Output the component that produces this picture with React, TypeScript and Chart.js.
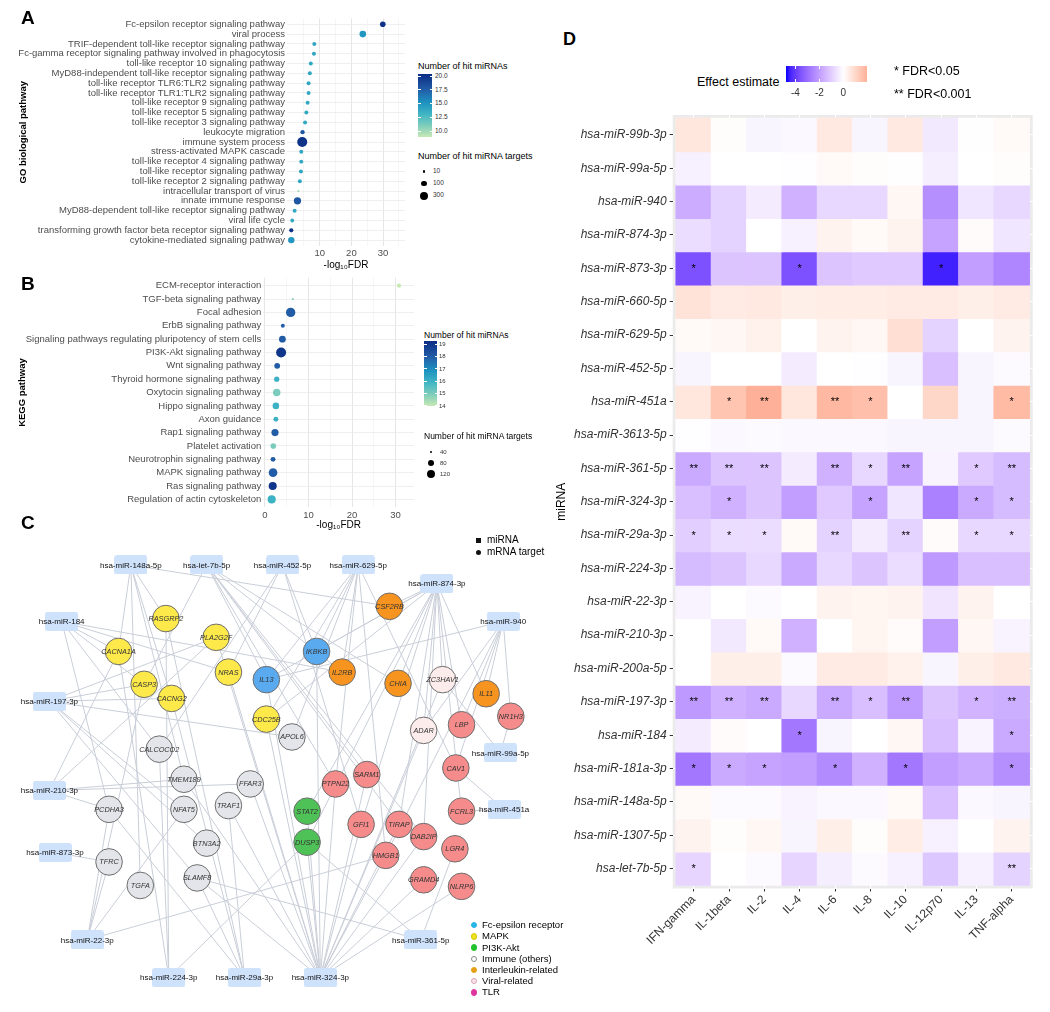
import React, { useEffect, useRef } from 'react';
import { Chart, registerables } from 'chart.js';

Chart.register(...registerables);

const FONT = '"Liberation Sans", Arial, Helvetica, sans-serif';
Chart.defaults.font.family = FONT;

// ---------------- Panel A: GO biological pathways ----------------
const goTerms = [
  'Fc-epsilon receptor signaling pathway',
  'viral process',
  'TRIF-dependent toll-like receptor signaling pathway',
  'Fc-gamma receptor signaling pathway involved in phagocytosis',
  'toll-like receptor 10 signaling pathway',
  'MyD88-independent toll-like receptor signaling pathway',
  'toll-like receptor TLR6:TLR2 signaling pathway',
  'toll-like receptor TLR1:TLR2 signaling pathway',
  'toll-like receptor 9 signaling pathway',
  'toll-like receptor 5 signaling pathway',
  'toll-like receptor 3 signaling pathway',
  'leukocyte migration',
  'immune system process',
  'stress-activated MAPK cascade',
  'toll-like receptor 4 signaling pathway',
  'toll-like receptor signaling pathway',
  'toll-like receptor 2 signaling pathway',
  'intracellular transport of virus',
  'innate immune response',
  'MyD88-dependent toll-like receptor signaling pathway',
  'viral life cycle',
  'transforming growth factor beta receptor signaling pathway',
  'cytokine-mediated signaling pathway',
];
const goFDR = [29.9, 23.6, 8.3, 8.2, 7.2, 6.9, 6.5, 6.5, 6.2, 5.8, 5.4, 4.6, 4.5, 4.2, 4.2, 4.1, 3.75, 3.3, 3.0, 2.1, 1.35, 1.05, 1.05];
const goHitMiRNAs = [20, 15, 14, 14, 14, 14, 14, 14, 14, 14, 14, 18, 20, 14, 14, 14, 14, 10, 18, 14, 14, 20, 15];
const goHitTargets = [113, 184, 37, 37, 37, 37, 37, 37, 37, 37, 37, 48, 560, 37, 37, 37, 37, 8, 244, 37, 31, 44, 170];
const goColorRange = [9, 20.4];
const goColorTicks = [20, 17.5, 15, 12.5, 10];
const goSizeRange = [8, 560];
const goSizeTicks = [10, 100, 300];
const goXGrid = [5, 10, 15, 20, 25, 30, 35];
const goXLabels = [10, 20, 30];

// ---------------- Panel B: KEGG pathways ----------------
const keggTerms = [
  'ECM-receptor interaction',
  'TGF-beta signaling pathway',
  'Focal adhesion',
  'ErbB signaling pathway',
  'Signaling pathways regulating pluripotency of stem cells',
  'PI3K-Akt signaling pathway',
  'Wnt signaling pathway',
  'Thyroid hormone signaling pathway',
  'Oxytocin signaling pathway',
  'Hippo signaling pathway',
  'Axon guidance',
  'Rap1 signaling pathway',
  'Platelet activation',
  'Neurotrophin signaling pathway',
  'MAPK signaling pathway',
  'Ras signaling pathway',
  'Regulation of actin cytoskeleton',
];
const keggFDR = [30.8, 6.4, 5.9, 4.1, 4.0, 3.7, 2.8, 2.7, 2.7, 2.5, 2.5, 2.3, 1.9, 1.85, 1.85, 1.77, 1.54];
const keggHitMiRNAs = [14, 15, 18, 18, 18, 19, 18, 16, 15, 16, 16, 18, 15, 18, 18, 19, 16];
const keggHitTargets = [49, 38, 154, 46, 87, 176, 69, 61, 102, 83, 56, 95, 66, 56, 134, 118, 118];
const keggColorRange = [14, 19.25];
const keggColorTicks = [19, 18, 17, 16, 15, 14];
const keggSizeRange = [38, 190];
const keggSizeTicks = [40, 80, 120];
const keggXGrid = [0, 5, 10, 15, 20, 25, 30];
const keggXLabels = [0, 10, 20, 30];

// ---------------- Panel C: miRNA - target network ----------------
const mirnaNodes = [
  'hsa-miR-148a-5p', 'hsa-let-7b-5p', 'hsa-miR-452-5p', 'hsa-miR-629-5p', 'hsa-miR-874-3p',
  'hsa-miR-940', 'hsa-miR-184', 'hsa-miR-197-3p', 'hsa-miR-99a-5p', 'hsa-miR-451a',
  'hsa-miR-210-3p', 'hsa-miR-873-3p', 'hsa-miR-22-3p', 'hsa-miR-224-3p', 'hsa-miR-29a-3p',
  'hsa-miR-324-3p', 'hsa-miR-361-5p',
];
const mirnaNodeX = [123, 203, 283, 363, 446, 516, 50, 37, 513, 517, 37, 43, 77, 163, 243, 323, 429];
const mirnaNodeY = [552, 552, 552, 552, 572, 612, 612, 697, 752, 812, 792, 858, 951, 991, 991, 991, 951];

const targetGroups = ['Fc-epsilon receptor', 'MAPK', 'PI3K-Akt', 'Immune (others)', 'Interleukin-related', 'Viral-related', 'TLR'];
const targetNodes = [
  'RASGRP2', 'CACNA1A', 'PLA2G2F', 'CASP3', 'CACNG2', 'NRAS', 'CDC25B',
  'IL13', 'IKBKB',
  'CSF2RB', 'IL2RB', 'CHIA', 'IL11',
  'ZC3HAV1', 'ADAR',
  'APOL6', 'CALCOCO2', 'TMEM189', 'FFAR3', 'PCDHA3', 'NFAT5', 'TRAF1', 'BTN3A2', 'TFRC', 'TGFA', 'SLAMF8',
  'STAT2', 'DUSP3',
  'LBP', 'NR1H3', 'CAV1', 'PTPN22', 'SARM1', 'GFI1', 'TIRAP', 'DAB2IP', 'FCRL3', 'LGR4', 'HMGB1', 'GRAMD4', 'NLRP6',
];
const targetNodeX = [
  160, 110, 213, 137, 166, 226, 266,
  266, 319,
  396, 346, 405, 498,
  452, 432,
  293, 153, 179, 249, 100, 179, 226, 203, 100, 133, 193,
  309, 309,
  472, 524, 466, 339, 372, 366, 406, 432, 472, 465, 392, 432, 472,
];
const targetNodeY = [
  609, 644, 629, 679, 694, 666, 716,
  674, 644,
  596, 666, 678, 689,
  674, 728,
  735, 748, 780, 785, 812, 812, 808, 848, 868, 893, 885,
  814, 847,
  722, 713, 768, 785, 775, 828, 828, 841, 814, 854, 861, 887, 894,
];
const targetNodeGroup = [
  1, 1, 1, 1, 1, 1, 1,
  0, 0,
  4, 4, 4, 4,
  5, 5,
  3, 3, 3, 3, 3, 3, 3, 3, 3, 3, 3,
  2, 2,
  6, 6, 6, 6, 6, 6, 6, 6, 6, 6, 6, 6, 6,
];
const networkEdges = [
  ['hsa-miR-148a-5p', 'RASGRP2'], ['hsa-miR-148a-5p', 'CACNA1A'], ['hsa-miR-148a-5p', 'CSF2RB'], ['hsa-miR-148a-5p', 'TGFA'], ['hsa-miR-148a-5p', 'CACNG2'], ['hsa-miR-148a-5p', 'TMEM189'],
  ['hsa-let-7b-5p', 'CASP3'], ['hsa-let-7b-5p', 'IL13'], ['hsa-let-7b-5p', 'CHIA'], ['hsa-let-7b-5p', 'SARM1'], ['hsa-let-7b-5p', 'PTPN22'], ['hsa-let-7b-5p', 'TIRAP'], ['hsa-let-7b-5p', 'DAB2IP'], ['hsa-let-7b-5p', 'IL2RB'],
  ['hsa-miR-452-5p', 'NRAS'], ['hsa-miR-452-5p', 'CALCOCO2'], ['hsa-miR-452-5p', 'IKBKB'], ['hsa-miR-452-5p', 'GFI1'],
  ['hsa-miR-629-5p', 'IL13'], ['hsa-miR-629-5p', 'IKBKB'], ['hsa-miR-629-5p', 'IL2RB'], ['hsa-miR-629-5p', 'CDC25B'], ['hsa-miR-629-5p', 'APOL6'], ['hsa-miR-629-5p', 'HMGB1'], ['hsa-miR-629-5p', 'CAV1'], ['hsa-miR-629-5p', 'PTPN22'],
  ['hsa-miR-874-3p', 'IL13'], ['hsa-miR-874-3p', 'IKBKB'], ['hsa-miR-874-3p', 'STAT2'], ['hsa-miR-874-3p', 'DUSP3'], ['hsa-miR-874-3p', 'ZC3HAV1'], ['hsa-miR-874-3p', 'ADAR'], ['hsa-miR-874-3p', 'IL11'], ['hsa-miR-874-3p', 'LBP'], ['hsa-miR-874-3p', 'FCRL3'], ['hsa-miR-874-3p', 'GFI1'], ['hsa-miR-874-3p', 'CHIA'], ['hsa-miR-874-3p', 'DAB2IP'], ['hsa-miR-874-3p', 'TIRAP'], ['hsa-miR-874-3p', 'CSF2RB'], ['hsa-miR-874-3p', 'CDC25B'],
  ['hsa-miR-940', 'IL11'], ['hsa-miR-940', 'NR1H3'], ['hsa-miR-940', 'LBP'], ['hsa-miR-940', 'IL13'], ['hsa-miR-940', 'CAV1'], ['hsa-miR-940', 'ADAR'], ['hsa-miR-940', 'HMGB1'],
  ['hsa-miR-184', 'IL2RB'], ['hsa-miR-184', 'NRAS'], ['hsa-miR-184', 'CACNA1A'], ['hsa-miR-184', 'PCDHA3'], ['hsa-miR-184', 'CALCOCO2'], ['hsa-miR-184', 'CASP3'],
  ['hsa-miR-197-3p', 'CASP3'], ['hsa-miR-197-3p', 'CACNG2'], ['hsa-miR-197-3p', 'PLA2G2F'], ['hsa-miR-197-3p', 'APOL6'], ['hsa-miR-197-3p', 'BTN3A2'], ['hsa-miR-197-3p', 'NFAT5'], ['hsa-miR-197-3p', 'SLAMF8'],
  ['hsa-miR-210-3p', 'TMEM189'], ['hsa-miR-210-3p', 'FFAR3'], ['hsa-miR-210-3p', 'PCDHA3'], ['hsa-miR-210-3p', 'CACNA1A'], ['hsa-miR-210-3p', 'PLA2G2F'],
  ['hsa-miR-873-3p', 'TFRC'],
  ['hsa-miR-22-3p', 'TFRC'], ['hsa-miR-22-3p', 'NFAT5'], ['hsa-miR-22-3p', 'HMGB1'], ['hsa-miR-22-3p', 'PCDHA3'], ['hsa-miR-22-3p', 'CASP3'],
  ['hsa-miR-224-3p', 'DUSP3'], ['hsa-miR-224-3p', 'CALCOCO2'], ['hsa-miR-224-3p', 'CACNA1A'], ['hsa-miR-224-3p', 'RASGRP2'],
  ['hsa-miR-29a-3p', 'PCDHA3'], ['hsa-miR-29a-3p', 'TRAF1'], ['hsa-miR-29a-3p', 'RASGRP2'], ['hsa-miR-29a-3p', 'SLAMF8'], ['hsa-miR-29a-3p', 'CACNG2'],
  ['hsa-miR-324-3p', 'SLAMF8'], ['hsa-miR-324-3p', 'FFAR3'], ['hsa-miR-324-3p', 'TRAF1'], ['hsa-miR-324-3p', 'STAT2'], ['hsa-miR-324-3p', 'DUSP3'], ['hsa-miR-324-3p', 'GFI1'], ['hsa-miR-324-3p', 'PTPN22'], ['hsa-miR-324-3p', 'SARM1'], ['hsa-miR-324-3p', 'HMGB1'], ['hsa-miR-324-3p', 'DAB2IP'], ['hsa-miR-324-3p', 'GRAMD4'], ['hsa-miR-324-3p', 'NLRP6'], ['hsa-miR-324-3p', 'TIRAP'], ['hsa-miR-324-3p', 'IKBKB'], ['hsa-miR-324-3p', 'CDC25B'], ['hsa-miR-324-3p', 'ADAR'], ['hsa-miR-324-3p', 'NRAS'], ['hsa-miR-324-3p', 'PLA2G2F'], ['hsa-miR-324-3p', 'IL13'], ['hsa-miR-324-3p', 'ZC3HAV1'], ['hsa-miR-324-3p', 'TMEM189'],
  ['hsa-miR-361-5p', 'LGR4'], ['hsa-miR-361-5p', 'SLAMF8'], ['hsa-miR-361-5p', 'DUSP3'],
  ['hsa-miR-451a', 'CAV1'], ['hsa-miR-451a', 'FCRL3'],
  ['hsa-miR-99a-5p', 'NR1H3'], ['hsa-miR-99a-5p', 'ZC3HAV1'],
];

// ---------------- Panel D: effect estimates heatmap ----------------
const cytokines = ['IFN-gamma', 'IL-1beta', 'IL-2', 'IL-4', 'IL-6', 'IL-8', 'IL-10', 'IL-12p70', 'IL-13', 'TNF-alpha'];
const heatRows = [
  'hsa-miR-99b-3p', 'hsa-miR-99a-5p', 'hsa-miR-940', 'hsa-miR-874-3p', 'hsa-miR-873-3p', 'hsa-miR-660-5p',
  'hsa-miR-629-5p', 'hsa-miR-452-5p', 'hsa-miR-451a', 'hsa-miR-3613-5p', 'hsa-miR-361-5p', 'hsa-miR-324-3p',
  'hsa-miR-29a-3p', 'hsa-miR-224-3p', 'hsa-miR-22-3p', 'hsa-miR-210-3p', 'hsa-miR-200a-5p', 'hsa-miR-197-3p',
  'hsa-miR-184', 'hsa-miR-181a-3p', 'hsa-miR-148a-5p', 'hsa-miR-1307-5p', 'hsa-let-7b-5p',
];
const effIFNgamma = [0.6, -0.3, -1.7, -0.7, -3.6, 0.7, 0.15, -0.2, 0.6, -0.05, -1.75, -1.3, -1.0, -1.4, -0.25, 0.0, 0.0, -2.1, -0.4, -2.8, 0.15, 0.3, -0.85];
const effIL1beta = [0.05, 0.0, -0.9, -0.9, -1.2, 0.5, 0.2, 0.0, 1.45, -0.15, -1.2, -1.6, -0.7, -1.2, 0.0, -0.45, 0.4, -1.6, 0.1, -1.75, -0.1, 0.05, 0.0];
const effIL2 = [-0.2, 0.0, -0.4, 0.0, -1.2, 0.55, 0.35, 0.0, 1.95, -0.1, -1.2, -1.2, -0.7, -0.8, -0.1, 0.15, 0.4, -1.75, 0.0, -1.9, -0.1, 0.2, -0.1];
const effIL4 = [-0.15, -0.05, -1.6, -0.3, -3.6, 0.4, 0.0, -0.4, 0.6, -0.15, -0.4, -2.0, 0.15, -1.75, 0.0, -1.6, -0.1, -0.8, -2.8, -2.0, -0.25, -0.2, -0.85];
const effIL6 = [0.55, 0.15, -0.8, 0.3, -1.2, 0.45, 0.3, 0.0, 1.75, -0.15, -1.6, -1.1, -0.9, -0.8, 0.3, 0.0, 0.5, -1.75, -0.2, -2.4, -0.15, 0.4, -0.35];
const effIL8 = [-0.2, 0.05, -0.8, 0.15, -1.1, 0.45, 0.2, -0.05, 1.6, -0.15, -0.8, -1.9, -0.4, -1.2, 0.25, 0.25, 0.5, -1.3, 0.0, -1.6, -0.15, 0.05, -0.1];
const effIL10 = [0.55, 0.02, 0.2, 0.3, -1.1, 0.5, 0.8, -0.2, 0.0, -0.2, -1.9, -0.5, -0.9, -0.7, 0.3, 0.1, 0.35, -2.05, 0.2, -2.8, 0.15, 0.45, -0.3];
const effIL12p70 = [-0.45, -0.35, -2.3, -1.9, -4.45, 0.5, -0.9, -1.3, 1.0, -0.2, -0.25, -2.6, 0.1, -2.1, -0.55, -2.0, -0.2, -1.2, -1.3, -2.0, -1.3, -0.3, -1.15];
const effIL13 = [0.02, 0.0, -0.5, 0.1, -2.0, 0.4, 0.0, -0.2, -0.2, -0.2, -1.1, -1.75, -0.8, -1.3, 0.3, 0.2, 0.4, -1.55, -0.25, -1.75, -0.15, 0.0, -0.3];
const effTNFalpha = [0.15, 0.05, -0.8, -0.5, -2.5, 0.5, 0.3, -0.1, 1.7, -0.1, -1.4, -1.4, -0.8, -1.3, 0.0, -0.25, 0.55, -1.65, -1.75, -2.3, -0.2, 0.3, -0.9];

const sigIFNgamma = ['', '', '', '', '*', '', '', '', '', '', '**', '', '*', '', '', '', '', '**', '', '*', '', '', '*'];
const sigIL1beta = ['', '', '', '', '', '', '', '', '*', '', '**', '*', '*', '', '', '', '', '**', '', '*', '', '', ''];
const sigIL2 = ['', '', '', '', '', '', '', '', '**', '', '**', '', '*', '', '', '', '', '**', '', '*', '', '', ''];
const sigIL4 = ['', '', '', '', '*', '', '', '', '', '', '', '', '', '', '', '', '', '', '*', '', '', '', ''];
const sigIL6 = ['', '', '', '', '', '', '', '', '**', '', '**', '', '**', '', '', '', '', '**', '', '*', '', '', ''];
const sigIL8 = ['', '', '', '', '', '', '', '', '*', '', '*', '*', '', '', '', '', '', '*', '', '', '', '', ''];
const sigIL10 = ['', '', '', '', '', '', '', '', '', '', '**', '', '**', '', '', '', '', '**', '', '*', '', '', ''];
const sigIL12p70 = ['', '', '', '', '*', '', '', '', '', '', '', '', '', '', '', '', '', '', '', '', '', '', ''];
const sigIL13 = ['', '', '', '', '', '', '', '', '', '', '*', '*', '*', '', '', '', '', '*', '', '', '', '', ''];
const sigTNFalpha = ['', '', '', '', '', '', '', '', '*', '', '**', '*', '*', '', '', '', '', '**', '*', '*', '', '', '**'];

const effectColumns = [effIFNgamma, effIL1beta, effIL2, effIL4, effIL6, effIL8, effIL10, effIL12p70, effIL13, effTNFalpha];
const sigColumns = [sigIFNgamma, sigIL1beta, sigIL2, sigIL4, sigIL6, sigIL8, sigIL10, sigIL12p70, sigIL13, sigTNFalpha];
const effLimits = [-4.78, 1.95];
const effTicks = [-4, -2, 0];

// ---------------- colour helpers ----------------
const RAMP = [
  [0, [199, 233, 180]], [0.18, [127, 205, 187]], [0.36, [65, 182, 196]],
  [0.55, [29, 145, 192]], [0.75, [34, 94, 168]], [1, [12, 44, 132]],
];
function rampColor(t) {
  const u = Math.max(0, Math.min(1, t));
  for (let i = 1; i < RAMP.length; i++) {
    const t0 = RAMP[i - 1][0], c0 = RAMP[i - 1][1], t1 = RAMP[i][0], c1 = RAMP[i][1];
    if (u <= t1) {
      const f = (u - t0) / (t1 - t0);
      return 'rgb(' + c0.map((v, k) => Math.round(v + (c1[k] - v) * f)).join(',') + ')';
    }
  }
  return 'rgb(12,44,132)';
}
function toLin(c) { c /= 255; return c <= 0.04045 ? c / 12.92 : Math.pow((c + 0.055) / 1.055, 2.4); }
function fromLin(c) {
  const v = c <= 0.0031308 ? 12.92 * c : 1.055 * Math.pow(Math.max(c, 0), 1 / 2.4) - 0.055;
  return Math.round(Math.max(0, Math.min(1, v)) * 255);
}
function rgb2lab(rgb) {
  const R = toLin(rgb[0]), G = toLin(rgb[1]), B = toLin(rgb[2]);
  const X = (0.4124 * R + 0.3576 * G + 0.1805 * B) / 0.95047;
  const Y = 0.2126 * R + 0.7152 * G + 0.0722 * B;
  const Z = (0.0193 * R + 0.1192 * G + 0.9505 * B) / 1.08883;
  const f = (t) => (t > 0.008856 ? Math.cbrt(t) : 7.787 * t + 16 / 116);
  const fx = f(X), fy = f(Y), fz = f(Z);
  return [116 * fy - 16, 500 * (fx - fy), 200 * (fy - fz)];
}
function lab2rgb(lab) {
  const fy = (lab[0] + 16) / 116, fx = fy + lab[1] / 500, fz = fy - lab[2] / 200;
  const inv = (t) => (t * t * t > 0.008856 ? t * t * t : (t - 16 / 116) / 7.787);
  const X = inv(fx) * 0.95047, Y = inv(fy), Z = inv(fz) * 1.08883;
  const R = 3.2406 * X - 1.5372 * Y - 0.4986 * Z;
  const G = -0.9689 * X + 1.8758 * Y + 0.0415 * Z;
  const B = 0.0557 * X - 0.204 * Y + 1.057 * Z;
  return [fromLin(R), fromLin(G), fromLin(B)];
}
const LAB_W = rgb2lab([255, 255, 255]);
const LAB_LOW = rgb2lab([0, 0, 255]);
const LAB_HIGH = rgb2lab([255, 0, 0]);
const effMin = effLimits[0];
const effMax = effLimits[1];
const effAbs = Math.max(-effMin, effMax);
function effectColor(v) {
  const t = Math.min(1, Math.abs(v) / effAbs);
  const end = v < 0 ? LAB_LOW : LAB_HIGH;
  const lab = [0, 1, 2].map((k) => LAB_W[k] + (end[k] - LAB_W[k]) * t);
  const c = lab2rgb(lab);
  return 'rgb(' + c.join(',') + ')';
}
function goRadius(n) {
  return 1.1 + 3.9 * Math.sqrt(Math.max(0, n - goSizeRange[0]) / (goSizeRange[1] - goSizeRange[0]));
}
function keggRadius(n) {
  return 1.0 + 4.2 * Math.sqrt(Math.max(0, n - keggSizeRange[0]) / (keggSizeRange[1] - keggSizeRange[0]));
}

const groupNodeColors = ['#5aaaf0', '#fde94a', '#4fc257', '#e3e5ea', '#f7941f', '#fcecec', '#f58b8b'];
const groupLegendColors = ['#27b4e6', '#efe21c', '#22c22a', '#ffffff', '#e59f15', '#f9e3e9', '#df359f'];
const groupLegendBorders = ['#27b4e6', '#d6c800', '#22c22a', '#8a8a8a', '#e59f15', '#d9a3b3', '#df359f'];

// ---------------- small text helper ----------------
function T(props) {
  const { x, y, size, children, bold, italic, align, color } = props;
  let transform;
  if (align === 'center') transform = 'translateX(-50%)';
  if (align === 'right') transform = 'translateX(-100%)';
  return (
    <div style={{
      position: 'absolute', left: x, top: y - size * 0.5, fontSize: size, lineHeight: size + 'px',
      fontFamily: FONT, fontWeight: bold ? 'bold' : 'normal', fontStyle: italic ? 'italic' : 'normal',
      color: color || '#000', whiteSpace: 'nowrap', transform,
    }}>{children}</div>
  );
}

// ---------------- dot plot (panels A, B) ----------------
function DotPlot(p) {
  const ref = useRef(null);
  useEffect(() => {
    const n = p.terms.length;
    const chart = new Chart(ref.current, {
      type: 'scatter',
      data: {
        datasets: [{
          data: p.terms.map((_, i) => ({ x: p.fdr[i], y: i })),
          pointRadius: p.targets.map(p.radius),
          pointHoverRadius: p.targets.map(p.radius),
          pointBackgroundColor: p.hits.map((h) => rampColor((h - p.cRange[0]) / (p.cRange[1] - p.cRange[0]))),
          pointBorderWidth: 0,
          pointBorderColor: 'rgba(0,0,0,0)',
        }],
      },
      options: {
        responsive: false, animation: false, events: [],
        layout: { padding: { left: 0, top: p.areaTop, right: p.w - p.areaRight, bottom: 0 } },
        plugins: { legend: { display: false }, tooltip: { enabled: false } },
        scales: {
          x: {
            type: 'linear', min: p.xMin, max: p.xMax, offset: false,
            afterBuildTicks: (ax) => { ax.ticks = p.xGrid.map((v) => ({ value: v })); },
            afterFit: (ax) => { ax.height = p.h - p.areaBottom; },
            ticks: {
              autoSkip: false, maxRotation: 0, minRotation: 0, padding: 2, color: '#4d4d4d',
              font: { family: FONT, size: 9.5 },
              callback: (v) => (p.xLabels.indexOf(v) >= 0 ? String(v) : ''),
            },
            grid: {
              drawTicks: false, offset: false,
              color: (c) => (c.tick && c.tick.value % 10 === 0 ? '#e6e6e6' : '#f2f2f2'),
              lineWidth: (c) => (c.tick && c.tick.value % 10 === 0 ? 1 : 0.7),
            },
            border: { display: false },
            title: { display: true, text: '-log₁₀FDR', color: '#000', font: { family: FONT, size: 10 }, padding: { top: 0, bottom: 4 } },
          },
          y: {
            type: 'linear', reverse: true, min: -0.6, max: n - 0.4, offset: false,
            afterBuildTicks: (ax) => { ax.ticks = p.terms.map((_, i) => ({ value: i })); },
            afterFit: (ax) => { ax.width = p.areaLeft; },
            ticks: { autoSkip: false, padding: 2, color: '#4d4d4d', font: { family: FONT, size: 9.5 }, callback: (v) => p.terms[v] },
            grid: { drawTicks: false, offset: false, color: '#ebebeb', lineWidth: 0.8 },
            border: { display: false },
            title: { display: true, text: p.yTitle, color: '#000', font: { family: FONT, size: 9.5, weight: 'bold' }, padding: { top: p.yTitlePad, bottom: 0 } },
          },
        },
      },
    });
    return () => chart.destroy();
  }, []);
  return <canvas ref={ref} width={p.w} height={p.h} style={{ position: 'absolute', left: p.left, top: p.top, width: p.w, height: p.h }} />;
}

// ---------------- network (panel C) ----------------
function NetworkPlot() {
  const ref = useRef(null);
  useEffect(() => {
    const box = document.createElement('canvas');
    box.width = 33; box.height = 19;
    const b = box.getContext('2d');
    b.fillStyle = '#cfe2fc';
    b.beginPath();
    const r = 2.5, bw = 33, bh = 19;
    b.moveTo(r, 0); b.lineTo(bw - r, 0); b.quadraticCurveTo(bw, 0, bw, r); b.lineTo(bw, bh - r);
    b.quadraticCurveTo(bw, bh, bw - r, bh); b.lineTo(r, bh); b.quadraticCurveTo(0, bh, 0, bh - r);
    b.lineTo(0, r); b.quadraticCurveTo(0, 0, r, 0); b.closePath(); b.fill();

    const mi = (name) => mirnaNodes.indexOf(name);
    const ti = (name) => targetNodes.indexOf(name);
    const edgeSets = networkEdges.map((e) => ({
      data: [{ x: mirnaNodeX[mi(e[0])], y: mirnaNodeY[mi(e[0])] }, { x: targetNodeX[ti(e[1])], y: targetNodeY[ti(e[1])] }],
      showLine: true, borderColor: '#c9ced8', borderWidth: 1, pointRadius: 0, order: 3,
    }));
    const labels = {
      id: 'netLabels',
      afterDatasetsDraw(chart) {
        const { ctx } = chart;
        const xs = chart.scales.x, ys = chart.scales.y;
        ctx.save();
        ctx.textAlign = 'center';
        ctx.textBaseline = 'middle';
        ctx.font = 'italic 7.3px ' + FONT;
        ctx.fillStyle = '#333';
        targetNodes.forEach((t, i) => ctx.fillText(t, xs.getPixelForValue(targetNodeX[i]), ys.getPixelForValue(targetNodeY[i]) + 0.5));
        ctx.font = '8px ' + FONT;
        ctx.fillStyle = '#111';
        mirnaNodes.forEach((m, i) => ctx.fillText(m, xs.getPixelForValue(mirnaNodeX[i]), ys.getPixelForValue(mirnaNodeY[i]) + 0.5));
        ctx.restore();
      },
    };
    const chart = new Chart(ref.current, {
      type: 'scatter',
      data: {
        datasets: [
          ...edgeSets,
          {
            data: targetNodes.map((_, i) => ({ x: targetNodeX[i], y: targetNodeY[i] })),
            pointRadius: 13.3, pointBackgroundColor: targetNodeGroup.map((g) => groupNodeColors[g]),
            pointBorderColor: '#6e6e6e', pointBorderWidth: 1, order: 2,
          },
          {
            data: mirnaNodes.map((_, i) => ({ x: mirnaNodeX[i], y: mirnaNodeY[i] })),
            pointStyle: box, pointRadius: 10, order: 1,
          },
        ],
      },
      options: {
        responsive: false, animation: false, events: [],
        layout: { padding: 0 },
        plugins: { legend: { display: false }, tooltip: { enabled: false } },
        scales: {
          x: { type: 'linear', display: false, min: 0, max: 545 },
          y: { type: 'linear', display: false, min: 530, max: 1005, reverse: true },
        },
      },
      plugins: [labels],
    });
    return () => chart.destroy();
  }, []);
  return <canvas ref={ref} width={545} height={475} style={{ position: 'absolute', left: 0, top: 530, width: 545, height: 475 }} />;
}

// ---------------- heatmap (panel D) ----------------
function Heatmap() {
  const ref = useRef(null);
  const L = 540, TOP = 100, W = 505, H = 880;
  const areaRight = 492.7, areaTop = 15, areaBottom = 788.5, axisW = 132.7;
  useEffect(() => {
    const datasets = heatRows.map((_, r) => ({
      data: cytokines.map((__, c) => ({ x: c, y: [r - 0.5, r + 0.5] })),
      backgroundColor: cytokines.map((__, c) => effectColor(effectColumns[c][r])),
      borderWidth: 0, barPercentage: 1, categoryPercentage: 1, grouped: false, inflateAmount: 0.6,
    }));
    const panelBg = {
      id: 'panelBg',
      beforeDraw(chart) {
        const { ctx, chartArea: a } = chart;
        ctx.save(); ctx.fillStyle = '#ebebeb';
        ctx.fillRect(a.left, a.top, a.right - a.left, a.bottom - a.top);
        ctx.restore();
      },
    };
    const stars = {
      id: 'stars',
      afterDatasetsDraw(chart) {
        const { ctx } = chart;
        const xs = chart.scales.x, ys = chart.scales.y;
        ctx.save();
        ctx.font = '11px ' + FONT; ctx.fillStyle = '#000';
        ctx.textAlign = 'center'; ctx.textBaseline = 'middle';
        sigColumns.forEach((col, c) => col.forEach((s, r) => {
          if (s) ctx.fillText(s, xs.getPixelForValue(c), ys.getPixelForValue(r) + 0.5);
        }));
        ctx.restore();
      },
    };
    const chart = new Chart(ref.current, {
      type: 'bar',
      data: { datasets },
      options: {
        responsive: false, animation: false, events: [],
        layout: { padding: { left: 0, right: W - areaRight, top: areaTop, bottom: 0 } },
        plugins: { legend: { display: false }, tooltip: { enabled: false } },
        scales: {
          x: {
            type: 'linear', min: -0.595, max: 9.595, offset: false,
            afterBuildTicks: (ax) => { ax.ticks = cytokines.map((_, i) => ({ value: i })); },
            afterFit: (ax) => { ax.height = H - areaBottom; },
            ticks: {
              autoSkip: false, minRotation: 45, maxRotation: 45, padding: 1, color: '#333',
              font: { family: FONT, size: 12 }, callback: (v) => cytokines[v],
            },
            grid: { offset: false, color: '#ffffff', lineWidth: 1, drawTicks: true, tickLength: 3, tickColor: '#333', tickWidth: 1 },
            border: { display: false },
          },
          y: {
            type: 'linear', reverse: true, min: -0.597, max: 22.597, offset: false,
            afterBuildTicks: (ax) => { ax.ticks = heatRows.map((_, i) => ({ value: i })); },
            afterFit: (ax) => { ax.width = axisW; },
            ticks: { autoSkip: false, padding: 3, color: '#333', font: { family: FONT, size: 12, style: 'italic' }, callback: (v) => heatRows[v] },
            grid: { offset: false, color: '#ffffff', lineWidth: 1, drawTicks: true, tickLength: 3, tickColor: '#333', tickWidth: 1 },
            border: { display: false },
            title: { display: true, text: 'miRNA', color: '#000', font: { family: FONT, size: 12 }, padding: { top: 14.5, bottom: 0 } },
          },
        },
      },
      plugins: [panelBg, stars],
    });
    return () => chart.destroy();
  }, []);
  return <canvas ref={ref} width={W} height={H} style={{ position: 'absolute', left: L, top: TOP, width: W, height: H }} />;
}

// ---------------- legends ----------------
function ColorBar(p) {
  const stops = [];
  for (let i = 0; i <= 20; i++) stops.push(rampColor(i / 20) + ' ' + (i * 5) + '%');
  const pos = (v) => p.top + ((p.range[1] - v) / (p.range[1] - p.range[0])) * p.h;
  return (
    <>
      <div style={{ position: 'absolute', left: p.left, top: p.top, width: p.w, height: p.h, background: 'linear-gradient(to top, ' + stops.join(', ') + ')' }} />
      {p.ticks.map((v) => (
        <React.Fragment key={'t' + v}>
          <div style={{ position: 'absolute', left: p.left, top: pos(v) - 0.5, width: 2.5, height: 1, background: '#fff' }} />
          <div style={{ position: 'absolute', left: p.left + p.w - 2.5, top: pos(v) - 0.5, width: 2.5, height: 1, background: '#fff' }} />
          <T x={p.labelX} y={pos(v)} size={p.fs} color="#333">{p.fmt(v)}</T>
        </React.Fragment>
      ))}
    </>
  );
}

function SizeLegend(p) {
  return (
    <>
      {p.ticks.map((v, i) => {
        const r = p.radius(v);
        return (
          <React.Fragment key={'s' + v}>
            <div style={{ position: 'absolute', left: p.cx - r, top: p.ys[i] - r, width: 2 * r, height: 2 * r, borderRadius: '50%', background: '#000' }} />
            <T x={p.labelX} y={p.ys[i]} size={p.fs} color="#333">{String(v)}</T>
          </React.Fragment>
        );
      })}
    </>
  );
}

function EffectBar() {
  const left = 786, top = 65.7, w = 80.7, h = 16;
  const stops = [];
  for (let i = 0; i <= 24; i++) {
    const v = effMin + ((effMax - effMin) * i) / 24;
    stops.push(effectColor(v) + ' ' + ((i / 24) * 100).toFixed(2) + '%');
  }
  const px = (v) => left + ((v - effMin) / (effMax - effMin)) * w;
  return (
    <>
      <div style={{ position: 'absolute', left, top, width: w, height: h, background: 'linear-gradient(to right, ' + stops.join(', ') + ')' }} />
      {effTicks.map((v) => (
        <React.Fragment key={'e' + v}>
          <div style={{ position: 'absolute', left: px(v) - 0.5, top, width: 1, height: 3, background: '#fff' }} />
          <div style={{ position: 'absolute', left: px(v) - 0.5, top: top + h - 3, width: 1, height: 3, background: '#fff' }} />
          <T x={px(v)} y={93} size={10} align="center" color="#333">{String(v)}</T>
        </React.Fragment>
      ))}
    </>
  );
}

export default function App() {
  const groupYs = [925, 936.2, 947.4, 958.6, 969.8, 981, 992.2];
  return (
    <div style={{ position: 'absolute', left: 0, top: 0, width: 1050, height: 1012, background: '#fff', overflow: 'hidden', fontFamily: FONT }}>
      <DotPlot
        left={0} top={0} w={410} h={275}
        areaLeft={287} areaRight={406} areaTop={18.4} areaBottom={246}
        xMin={-0.3} xMax={36.9} xGrid={goXGrid} xLabels={goXLabels}
        terms={goTerms} fdr={goFDR} hits={goHitMiRNAs} targets={goHitTargets}
        radius={goRadius} cRange={goColorRange}
        yTitle="GO biological pathway" yTitlePad={17.8}
      />
      <DotPlot
        left={0} top={270} w={420} h={265}
        areaLeft={263.3} areaRight={414} areaTop={5.2} areaBottom={237.4}
        xMin={-0.39} xMax={34.25} xGrid={keggXGrid} xLabels={keggXLabels}
        terms={keggTerms} fdr={keggFDR} hits={keggHitMiRNAs} targets={keggHitTargets}
        radius={keggRadius} cRange={keggColorRange}
        yTitle="KEGG pathway" yTitlePad={16.8}
      />
      <NetworkPlot />
      <Heatmap />

      {/* panel letters */}
      <T x={21} y={17} size={19} bold>A</T>
      <T x={21} y={283.5} size={19} bold>B</T>
      <T x={21} y={522} size={19} bold>C</T>
      <T x={563} y={38.5} size={18} bold>D</T>

      {/* legend A */}
      <T x={418} y={66.7} size={9}>Number of hit miRNAs</T>
      <ColorBar left={418} top={74} w={14} h={62.7} range={goColorRange} ticks={goColorTicks} labelX={435} fs={6.5} fmt={(v) => v.toFixed(1)} />
      <T x={418} y={156.7} size={9}>Number of hit miRNA targets</T>
      <SizeLegend ticks={goSizeTicks} radius={goRadius} cx={424} ys={[171.7, 183.3, 195.7]} labelX={433} fs={6.5} />

      {/* legend B */}
      <T x={424} y={335.3} size={8.5}>Number of hit miRNAs</T>
      <ColorBar left={424} top={341} w={13} h={64.7} range={keggColorRange} ticks={keggColorTicks} labelX={439} fs={6} fmt={(v) => String(v)} />
      <T x={424} y={436} size={8.5}>Number of hit miRNA targets</T>
      <SizeLegend ticks={keggSizeTicks} radius={keggRadius} cx={431} ys={[452, 463, 474]} labelX={440} fs={6} />

      {/* legend C */}
      <div style={{ position: 'absolute', left: 475.5, top: 537.5, width: 5, height: 5, background: '#111' }} />
      <T x={487} y={540} size={10}>miRNA</T>
      <div style={{ position: 'absolute', left: 475.5, top: 549.5, width: 5, height: 5, borderRadius: '50%', background: '#111' }} />
      <T x={487} y={552} size={10}>mRNA target</T>
      {targetGroups.map((g, i) => (
        <React.Fragment key={g}>
          <div style={{ position: 'absolute', left: 471, top: groupYs[i] - 3, width: 4.4, height: 4.4, borderRadius: '50%', background: groupLegendColors[i], border: '0.8px solid ' + groupLegendBorders[i] }} />
          <T x={482} y={groupYs[i]} size={9.5}>{g}</T>
        </React.Fragment>
      ))}

      {/* legend D */}
      <T x={697} y={82} size={12.5}>Effect estimate</T>
      <EffectBar />
      <T x={894} y={71} size={12.5}>* FDR&lt;0.05</T>
      <T x={894} y={94} size={12.5}>** FDR&lt;0.001</T>
    </div>
  );
}
